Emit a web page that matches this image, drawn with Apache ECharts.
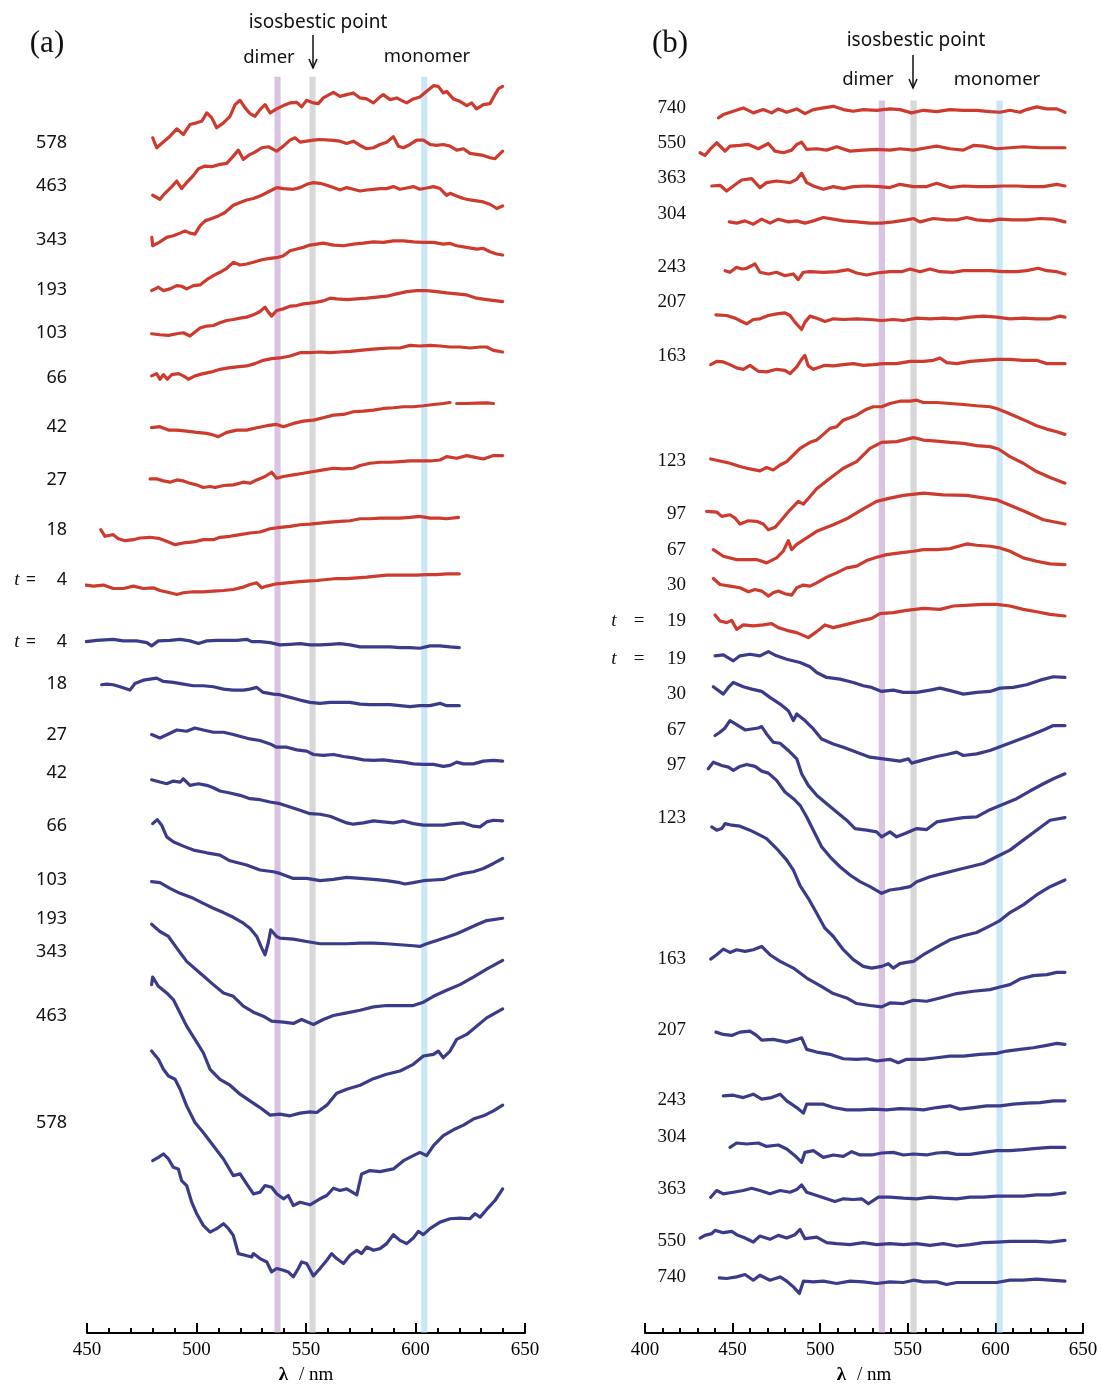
<!DOCTYPE html>
<html>
<head>
<meta charset="utf-8">
<script src="https://cdn.jsdelivr.net/npm/echarts@6/dist/echarts.min.js"></script>
<style>
html, body { margin: 0; padding: 0; background: #fff; }
#chart { width: 1102px; height: 1390px; }
</style>
</head>
<body>
<div id="chart"></div>
<script>
// y values are stacked offsets (arbitrary units, top = 0), x is wavelength in nm

// ---- (a) red traces ----
const aRed578 = [[480,138.3],[481.8,148.3],[487.9,136.7],[491,129.3],[494,135],[497,125],[500,123.3],[502.4,121.7],[504.7,113.3],[507,118.3],[509.2,128.3],[512.3,123.3],[515.3,116.7],[517.6,105],[519.9,100.7],[522.2,108.3],[524.4,114],[526.7,116.7],[529,110],[531.3,105],[533.6,113.3],[536.6,109.3],[539.7,106],[542.7,103.3],[545.8,102.7],[548,107.3],[550.3,100.7],[553.4,103.3],[555.6,104],[557.9,98.3],[562.5,92.7],[565.5,96.7],[568.6,95],[571.6,93.3],[574.7,98.3],[577.7,99.3],[580.8,103.3],[583.8,97.3],[585.3,95],[588.4,100],[591.4,98.3],[594.5,101.7],[596,103.3],[599,99.3],[602,97.3],[605.1,91.7],[608.2,86],[610.4,86.7],[612.7,93.3],[614.2,91.7],[617.3,99.3],[620.3,101.7],[623.4,106],[625.7,103.3],[627.9,109.3],[631,105],[634,104],[636.3,95],[637.8,89.3],[639.8,86.7]];
const aRed463 = [[480,196],[483.3,200],[485.6,194],[488.7,187.3],[491,181.7],[493.2,189.3],[495.5,183.3],[498.6,176],[500.9,169.3],[503.9,166.7],[506.9,167.3],[510.7,165],[513.8,164],[516.8,156.7],[519.1,150.7],[521.4,160],[523.7,156],[526.7,152.7],[529.8,148.3],[532.8,147.3],[536.6,151.7],[539.7,146.7],[542.7,140.7],[545,138.3],[547.3,142.7],[550.3,141.7],[553.4,140.7],[556.4,140],[561,140.7],[565.5,141.7],[568.6,144],[571.6,141.7],[574.7,146],[577.7,149.3],[580.8,148.3],[583.8,145],[586.8,142.7],[589.9,137.3],[592.2,146.7],[594.5,148.3],[597.5,145],[600.5,140.7],[603.6,140.7],[606.6,145],[609.7,146],[612.7,145],[615.8,146.7],[618.8,150.7],[621.9,149.3],[624.9,154],[627.9,155],[631,156],[634,158.3],[636.3,159.3],[637.8,156],[639.8,151.7]];
const aRed343 = [[479.6,238.3],[480,246.7],[483.3,242.7],[486.4,238.3],[489.4,236.7],[492.5,234],[494.8,231.7],[497,234],[499.3,235],[501.6,226.7],[503.9,221.7],[506.9,219.3],[510,216.7],[513,213.3],[516.8,206],[519.9,203.3],[522.9,200.7],[526,199.3],[529.8,196],[533.6,191.7],[536.6,188.3],[539.7,189.3],[544.2,190],[547.3,188.3],[550.3,185],[553.4,183.3],[556.4,184],[559.5,186],[562.5,188.3],[565.5,190.7],[568.6,188.3],[571.6,190],[574.7,191.7],[577.7,190.7],[580.8,190],[583.8,189.3],[586.8,189.3],[589.9,187.3],[592.9,190],[596,188.7],[599,187.3],[602,190],[605.1,188.7],[608.2,187.3],[611.2,189.3],[614.2,196],[615.8,194],[618.8,196.7],[621.9,199.3],[624.9,200.7],[627.9,201.7],[631,202.7],[634,205],[637.1,209.3],[639.8,206.7]];
const aRed193 = [[479.5,291.7],[482.6,288.3],[484.9,291.7],[487.9,290],[491,286.7],[493.2,287.3],[495.5,290],[498.6,286.7],[501.6,286],[504.7,280.7],[507.7,276.7],[510.7,273.3],[513.8,269.3],[516.8,263.3],[519.9,266],[522.9,265],[526,263.3],[529.8,260.7],[533.6,259.3],[537.4,258.3],[539.7,256.7],[542.7,251.7],[545.8,250],[548.8,248.3],[551.8,246],[554.9,245],[557.9,244],[562.5,246],[567.1,246.7],[571.6,245],[576.2,244],[580.8,242.7],[585.3,243.3],[589.9,241.7],[594.5,241.7],[599,242.7],[603.6,243.3],[608.2,243.3],[612.7,245],[615.8,244.3],[618.8,246.7],[623.4,248.3],[627.9,250],[631,249.3],[634,252.7],[637.1,255],[639.8,256]];
const aRed103 = [[479.5,335],[483.3,336],[487.2,336.7],[491,335],[494,334],[497,337.3],[499.3,333.3],[501.6,329.3],[504.7,327.3],[507.7,326.7],[510.7,324],[513.8,321.7],[516.8,320.7],[519.9,319.3],[522.9,318.3],[526,316],[529,312.7],[531.3,308.3],[532.8,313.3],[534.3,317.3],[536.6,311.7],[539.7,310],[542.7,307.3],[545.8,306.7],[548.8,305],[551.8,304.3],[554.9,303.3],[557.9,302],[561,299.3],[564,300],[568.6,300.7],[573.2,300],[577.7,299.3],[582.3,298.3],[586.8,297.3],[591.4,295],[596,292.7],[600.5,291.7],[605.1,291.7],[609.7,292.7],[614.2,294],[618.8,295],[623.4,296],[627.9,299.3],[632.5,300.7],[636.3,301.7],[639.8,302.7]];
const aRed66 = [[479.5,377.3],[481.8,375],[483.3,380.7],[484.9,376],[486.7,380.7],[488.7,376],[491.7,375],[494,377.3],[496.3,380.7],[499.3,377.3],[503.1,375],[506.9,373.3],[510.7,370.7],[514.6,369.3],[518.4,368.3],[522.9,367.3],[526.7,365],[530.5,361.7],[534.3,360],[538.1,359.3],[542.7,357.3],[547.3,354],[551.8,354],[556.4,353.3],[561,354],[565.5,353.3],[570.1,352.7],[574.7,351.7],[579.2,350.7],[583.8,350],[588.4,349.3],[592.9,349.3],[597.5,346.7],[602,347.3],[606.6,346.7],[611.2,347.3],[615.8,348.3],[620.3,348.3],[624.9,349.3],[629.5,348.3],[632.5,348.3],[635.6,351.7],[639.8,353.3]];
const aRed42 = [[479.5,429.3],[483.3,428.3],[487.2,431.7],[491,431.7],[495.5,432.7],[500.1,434],[504.7,435],[507.7,436.7],[510,438.3],[513.8,434],[518.4,431.7],[522.9,431.7],[527.5,429.3],[532.1,427.3],[536.6,426],[539.7,428.3],[544.2,425],[548.8,422.7],[553.4,421.7],[557.9,419.3],[562.5,416.7],[567.1,416],[571.6,413.3],[576.2,412.7],[580.8,411.7],[585.3,410],[589.9,409.3],[594.5,408.3],[599,408.3],[603.6,407.3],[608.2,406],[612.7,405],[615.8,404],[617.2,'-'],[618.8,405],[623.4,405],[627.9,404.7],[632.5,404.3],[635.6,405]];
const aRed27 = [[478.8,480.7],[481.8,480.7],[484.9,482.7],[487.9,484],[491,481.7],[494,482.7],[497,485],[500.1,486.7],[503.1,489.3],[506.2,488.3],[508.5,489.3],[512.3,487.3],[516.8,486.7],[521.4,484],[524.4,485],[527.5,481.7],[531.3,478.3],[534.3,474],[536.6,480],[539.7,478.3],[544.2,476.7],[548.8,475],[553.4,473.3],[557.9,471.7],[562.5,470],[567.1,470.7],[571.6,470],[574.7,467.3],[579.2,465],[583.8,464],[588.4,464],[592.9,463.3],[597.5,462.7],[602,462.7],[606.6,462.7],[611.2,461.7],[614.2,458.3],[618.8,460],[623.4,457.3],[627.9,459.3],[631,460.7],[635.6,457.3],[639.8,457.3]];
const aRed18 = [[456.3,531.7],[458.2,538.3],[460.5,537.3],[462,536.7],[464.3,540.7],[467.4,542.7],[471.2,541.7],[474.2,540],[478.8,539.3],[483.3,540.7],[487.2,544],[490.2,546.7],[494,545],[498.6,544],[503.1,541.7],[507.7,541.7],[510.7,539.3],[515.3,538.3],[519.9,536.7],[524.4,535],[529,534],[533.6,530.7],[538.1,529.3],[542.7,528.3],[547.3,526.7],[551.8,526],[556.4,525],[561,524],[565.5,523.3],[570.1,522.7],[574.7,520.7],[579.2,520.7],[583.8,520],[588.4,520],[592.9,520],[597.5,519.3],[602,518.3],[606.6,520],[611.2,520],[614.2,520.7],[619.6,519.3]];
const aRed4 = [[449.6,587.3],[452.9,588.3],[457.5,587.3],[462,590.7],[466.6,590.7],[471.2,588.3],[475.7,590.7],[480.3,590],[483.3,592.7],[487.9,595],[491,596.7],[494,595],[498.6,594],[503.1,594],[507.7,593.3],[512.3,592.7],[516.8,591.7],[521.4,589.3],[524.4,586.7],[527.5,585],[529.8,590],[532.1,588.3],[536.6,586],[541.2,585],[545.8,584],[550.3,583.3],[554.9,582.7],[559.5,581.7],[564,580.7],[568.6,580.7],[573.2,580],[577.7,579.3],[582.3,578.3],[586.8,577.3],[591.4,577.3],[596,577.3],[600.5,577.3],[605.1,576.7],[609.7,576.7],[614.2,576],[620,576]];

// ---- (a) blue traces ----
const aBlue4 = [[449.6,644],[454.4,642.7],[462,641.7],[466.6,643.3],[472.7,643.3],[477.3,645],[479.5,648.3],[482.6,643.3],[487.9,642.7],[492.5,641.7],[497,643.3],[500.9,646],[504.7,643.3],[509.2,642.7],[513.8,642.7],[518.4,642.7],[522.9,641.7],[525.2,644],[529,644],[533.6,645],[538.1,647.3],[542.7,646.7],[547.3,646],[551.8,647.3],[556.4,647.3],[561,646.7],[565.5,646],[570.1,647.3],[574.7,649.3],[579.2,649.3],[583.8,649.3],[588.4,649.3],[592.9,650],[597.5,650],[602,650.7],[606.6,648.3],[611.2,648.3],[615.8,649.3],[620,650]];
const aBlue18 = [[456.7,687.3],[459,686.7],[462,687.3],[465.1,689.3],[469.6,692.7],[471.9,686],[475.7,682.7],[481.8,680.7],[484.9,684],[489.4,685],[494,686.7],[498.6,688.3],[503.1,688.3],[507.7,689.3],[512.3,691.7],[516.8,692.7],[521.4,692.7],[524.4,691.7],[527.5,690],[530.5,695],[535.1,696.7],[538.1,697.3],[542.7,700],[547.3,702.7],[551.8,705],[556.4,706],[561,705],[565.5,705],[570.1,705],[574.7,706.7],[579.2,707.3],[583.8,707.3],[588.4,707.3],[592.9,708.3],[597.5,709.3],[602,708.3],[606.6,708.3],[611.2,706],[614.2,708.3],[620,708.3]];
const aBlue27 = [[479.5,737.3],[483.3,740.7],[487.9,736],[491,732.7],[495.5,734],[499.3,730.7],[503.1,732.7],[507.7,735],[512.3,735],[516.8,737.3],[521.4,740],[524.4,741.7],[529,743.3],[533.6,746.7],[536.6,750],[541.2,750],[545.8,752.7],[550.3,754],[553.4,757.3],[557.9,758.3],[562.5,757.3],[567.1,759.3],[571.6,760.7],[576.2,762.7],[580.8,763.3],[585.3,762.7],[589.9,764],[594.5,765],[599,766.7],[603.6,767.3],[608.2,767.3],[612.7,769.3],[615.8,768.3],[618.8,765],[621.9,766.7],[626.4,766.7],[631,764],[635.6,763.3],[639.8,764]];
const aBlue42 = [[479.5,782.7],[483.3,785],[486.4,786.7],[489.4,784],[492.5,785],[494,781.7],[497,788.3],[500.9,786.7],[504.7,788.3],[507.7,790.7],[510.7,794],[515.3,796],[519.9,798.3],[524.4,801.7],[529,802.7],[533.6,805],[538.1,806.7],[542.7,810],[547.3,813.3],[551.8,816.7],[556.4,817.3],[561,819.3],[565.5,823.3],[568.6,826],[571.6,827.3],[576.2,826],[580.8,824],[585.3,825],[589.9,826],[594.5,824],[599,826.7],[603.6,828.3],[608.2,828.3],[612.7,828.3],[617.3,826.7],[621.9,826],[626.4,829.3],[629.5,830],[632.5,825],[635.6,823.3],[639.8,824]];
const aBlue66 = [[480,826.7],[482.1,822.7],[484.1,828.3],[486.4,840],[489.4,845],[494,849.3],[498.6,853.3],[504.7,856],[510.7,858.3],[515.3,864],[522.9,868.3],[529,873.3],[535.1,875],[538.1,876.7],[544.2,881.7],[550.3,881.7],[556.4,884],[562.5,882.7],[568.6,880.7],[574.7,881.7],[580.8,882.7],[586.8,884],[592.9,886],[595.2,887.3],[599,886],[603.6,884],[608.2,883.3],[612.7,882.7],[617.3,879.3],[621.9,876.7],[626.4,875],[631,871.7],[635.6,866.7],[639.8,861.7]];
const aBlue103 = [[479.5,885],[483.3,886],[487.9,891.7],[492.5,896.7],[498.6,901.7],[503.1,906.7],[507.7,911.7],[512.3,916],[516.8,920.7],[521.4,926.7],[524.4,931.7],[527.5,940],[529.8,951.7],[531.3,958.3],[532.8,946],[533.9,933.3],[536.6,940],[538.1,941.7],[544.2,942.7],[550.3,945],[556.4,947.3],[562.5,947.3],[568.6,947.3],[574.7,946.7],[580.8,946.7],[586.8,947.3],[592.9,948.3],[599,949.3],[602,950],[605.1,947.3],[609.7,944],[614.2,940.7],[618.8,937.3],[623.4,932.7],[627.9,928.3],[632.5,924],[639.8,921.7]];
const aBlue193 = [[479.5,927.7],[483.3,935],[487.2,940],[491,951.7],[495.5,965],[501.6,976.7],[507.7,988.3],[512.3,996.7],[516.8,1000],[521.4,1010],[526,1016],[530.5,1020],[534.3,1025],[539.7,1026],[544.2,1027.3],[548,1023.3],[553.4,1028.3],[557.9,1023.3],[562.5,1019.3],[568.6,1016.7],[574.7,1014],[580.8,1010.7],[586.8,1009.3],[592.9,1009.3],[599,1009.3],[603.6,1006],[608.2,1000],[614.2,994],[620.3,988.3],[626.4,980.7],[632.5,972.7],[639.8,964]];
const aBlue343 = [[479.5,988.3],[480,980.7],[482.6,990],[486.4,996.7],[489.4,1003.3],[492.5,1016.7],[495.5,1030],[499.3,1043.3],[503.1,1056.7],[506.2,1073.3],[510.7,1083.3],[515.3,1089.3],[519.9,1098.3],[524.4,1105],[529,1111.7],[533.6,1119.3],[538.1,1118.3],[542.7,1120],[547.3,1117.3],[551.8,1116],[554.9,1116.7],[559.5,1109.3],[564,1097.3],[568.6,1093.3],[574.7,1089.3],[580.8,1082.7],[586.8,1078.3],[592.9,1075],[599,1068.3],[603.6,1060],[608.2,1058.3],[610.4,1055],[612.7,1061.7],[615.8,1055],[618.8,1043.3],[623.4,1038.3],[627.9,1030],[632.5,1021.7],[639.8,1012.7]];
const aBlue463 = [[479.5,1055],[482.6,1063.3],[484.9,1073.3],[487.2,1080],[490.2,1083.3],[492.5,1093.3],[495.5,1110],[499.3,1126.7],[503.1,1136.7],[507.7,1150],[512.3,1163.3],[516.8,1180],[519.9,1178.3],[522.9,1188.3],[526,1198.3],[529,1196.7],[531.3,1190],[534.3,1191.7],[536.6,1198.3],[539.7,1203.3],[541.9,1200],[544.2,1210],[547.3,1206.7],[551.8,1209.3],[556.4,1203.3],[559.5,1200],[562.5,1192.7],[565.5,1195],[568.6,1193.3],[573.2,1199.3],[575.4,1178.3],[579.2,1175],[583.8,1176],[589.9,1173.3],[594.5,1165],[599,1160],[602,1156.7],[605.1,1160],[608.2,1150],[612.7,1140],[617.3,1134],[621.9,1129.3],[626.4,1123.3],[631,1120],[635.6,1115],[639.8,1109.3]];
const aBlue578 = [[480,1165],[482.6,1161.7],[484.9,1158.3],[487.2,1163.3],[489.4,1171.7],[491.7,1173.3],[493.2,1185],[495.5,1190],[497.8,1206.7],[500.1,1218.3],[503.1,1230],[506.2,1236.7],[509.2,1233.3],[512.3,1228.3],[514.6,1233.3],[516.8,1240],[519.1,1258.3],[522.2,1260],[525.2,1261.7],[526,1258.3],[529,1263.3],[532.1,1266.7],[534.3,1276.7],[536.6,1273.3],[539.7,1275],[541.9,1276.7],[544.2,1281.7],[546.5,1273.3],[548,1266.7],[550.3,1268.3],[553.4,1280.7],[556.4,1273.3],[559.5,1265],[561.7,1258.3],[564,1263.3],[567.1,1268.3],[570.1,1260],[573.2,1255],[575.4,1258.3],[577.7,1251.7],[580.8,1255],[583.8,1253.3],[586.8,1248.3],[589.9,1239.3],[592.9,1245],[596,1248.3],[599,1242.7],[601.3,1236],[603.6,1239.3],[606.6,1233.3],[611.2,1226.7],[615.8,1223.3],[620.3,1222.7],[624.9,1223.3],[627.2,1218.3],[629.5,1221.7],[632.5,1214],[636.3,1205],[639.8,1193.3]];

// ---- (b) red traces ----
const bRed740 = [[441.9,118.3],[444.7,115],[450.4,111.7],[456.1,108.3],[461.8,113.3],[467.5,110],[472.3,113.3],[476.1,109.3],[480.9,112.7],[486.6,109.3],[491.3,114],[496.1,110],[501.8,108.3],[507.5,106.7],[513.2,110],[518.9,111.7],[524.6,110],[532.2,110.7],[539.8,109.3],[545.5,110],[552.2,113.3],[558.9,110.7],[566.5,112],[574.1,110],[581.7,110.7],[589.3,110.7],[596.9,112],[602.6,112.7],[608.3,110.7],[614,112.7],[617.8,110],[623.5,107.3],[629.3,109.3],[635,109.3],[639.7,112.7]];
const bRed550 = [[431.4,153.3],[434.2,156],[437.1,150],[440.9,143.3],[443.8,148.3],[445.7,151.7],[448.5,146.7],[454.2,146],[459,145],[464.7,149.3],[470.4,144],[474.2,151.7],[479,153.3],[483.7,150.7],[486.6,145],[489.4,142.7],[492.3,150],[498,149.3],[503.7,150.7],[509.4,147.3],[517,151.7],[524.6,150.7],[532.2,150],[539.8,150.7],[545.5,149.3],[553.2,150.7],[560.8,148.3],[566.5,146.7],[574.1,149.3],[581.7,150.7],[587.4,146],[593.1,146.7],[600.7,149.3],[608.3,148.3],[615.9,147.3],[625.5,148.3],[635,148.3],[639.7,148.3]];
const bRed363 = [[438.1,186.7],[442.8,186],[446.6,191.7],[450.4,186.7],[455.2,180.7],[460.9,179.3],[465.6,188.3],[469.4,183.3],[475.1,181.7],[479.9,182.7],[482.8,183.3],[486.6,180],[489.4,174],[492.3,183.3],[496.1,186.7],[501.8,190],[507.5,187.3],[513.2,189.3],[518.9,187.3],[526.5,186.7],[534.1,187.3],[539.8,188.3],[545.5,185],[553.2,187.3],[560.8,187.3],[566.5,184],[574.1,188.3],[581.7,186.7],[589.3,187.3],[596.9,187.3],[604.5,186.7],[612.1,186.7],[619.7,187.3],[627.4,187.3],[635,185],[639.7,186.7]];
const bRed304 = [[448.1,222.7],[452.3,224],[457.1,221.7],[461.8,225],[466.6,220],[471.3,224],[476.1,220],[481.8,222.7],[486.6,221.7],[491.3,224],[496.1,221.7],[501.8,218.3],[507.5,220],[513.2,221.7],[520.8,222.7],[528.4,224],[535.1,224],[541.7,222.7],[549.3,220.7],[553.2,219.3],[557,222.7],[564.6,219.3],[572.2,220.7],[577.9,220.7],[583.6,218.3],[589.3,220.7],[596.9,221.7],[602.6,220],[610.2,220.7],[617.8,220.7],[625.5,219.3],[633.1,220],[639.7,222.7]];
const bRed243 = [[445.7,271.7],[448.5,273.3],[452.3,268.3],[455.2,270],[458,269.3],[462.8,265],[465.6,273.3],[470.4,275],[475.1,273.3],[479.9,276.7],[484.7,275],[487.5,280.7],[490.4,273.3],[494.2,272.7],[501.8,273.3],[509.4,272.7],[516,270.7],[520.8,274],[526.5,276],[532.2,274],[539.8,272.7],[546.5,272.7],[551.3,270],[557,272.7],[562.7,270],[568.4,272.7],[576,273.3],[581.7,271.7],[589.3,271.7],[596.9,271.7],[604.5,272.7],[612.1,272.7],[617.8,271.7],[624.5,269.3],[629.3,271.7],[635,272.7],[639.7,275]];
const bRed207 = [[440.5,316],[446.6,316.7],[451.4,319.3],[455.2,322.7],[458,325],[461.8,320.7],[465.6,320],[470.4,316.7],[475.1,315],[479.9,314],[482.8,316.7],[485.6,323.3],[489.4,330.7],[491.3,323.3],[494.2,317.3],[498.9,320],[502.7,322.7],[507.5,320],[513.2,320.7],[520.8,320],[528.4,320.7],[535.1,321.7],[541.7,320.7],[547.5,321.7],[555.1,319.3],[562.7,320],[570.3,319.3],[577.9,320],[585.5,318.3],[593.1,317.3],[600.7,318.3],[608.3,320],[615.9,319.3],[623.5,320],[631.2,320],[636.9,317.3],[639.7,318.3]];
const bRed163 = [[437.5,366],[440.9,362.7],[444.7,363.3],[448.5,366],[452.3,369.3],[456.1,370.7],[459.9,366.7],[464.7,372.7],[469.4,373.3],[475.1,370.7],[479.9,371.7],[482.8,375],[486.6,368.3],[489.4,360.7],[491.3,356.7],[493.2,367.3],[496.1,370.7],[499.9,368.3],[502.7,366.7],[507.5,367.3],[513.2,366],[518.9,365],[524.6,366.7],[530.3,366],[536,365],[543.6,365],[551.3,362.7],[558.9,362.7],[564.6,361.7],[568.4,359.3],[572.2,364],[577.9,365],[585.5,362.7],[593.1,361.7],[600.7,360.7],[608.3,360.7],[615.9,361.7],[623.5,361.7],[629.3,365],[635,365],[639.7,365]];
const bRed123 = [[437.5,460.7],[442.8,462.7],[448.5,465],[454.2,468.3],[459.9,470.7],[465.6,472.7],[469.4,469.3],[473.2,471.7],[477.1,466.7],[480.9,463.3],[484.7,456.7],[488.5,450],[494.2,444],[498,441.7],[501.8,436],[505.6,430],[509.4,428.3],[513.2,421.7],[517,419.3],[520.8,416.7],[526.5,410.7],[530.3,408.3],[535.1,408.3],[539.8,405],[545.5,402.7],[551.3,402.7],[555.1,401.7],[558.9,404],[566.5,404],[574.1,405],[581.7,406],[589.3,407.3],[596.9,408.3],[600.7,410],[606.4,414],[612.1,418.3],[617.8,422.7],[623.5,427.3],[629.3,430.7],[635,433.3],[639.7,436]];
const bRed97 = [[435.2,513.3],[440.9,514],[443.8,518.3],[448.5,516.7],[451.4,520],[454.2,526],[459,522.7],[463.7,523.3],[467.5,526],[470.4,531.7],[474.2,529.3],[478,521.7],[482.8,511.7],[487.5,503.3],[490.4,506],[494.2,498.3],[498,490.5],[505.6,480],[513.2,470],[520.8,463.3],[528.4,450],[535.1,444],[543.6,443.3],[553.2,439.3],[558.9,441.7],[566.5,442.7],[574.1,444],[581.7,445],[589.3,447.3],[596.9,448.3],[601.7,450.7],[608.3,458.3],[615.9,465],[623.5,473.3],[631.2,479.3],[639.7,485]];
const bRed67 = [[439,551.7],[444.7,558.3],[452.3,561.7],[463.7,561.7],[469.4,565],[475.1,560],[478.9,553.3],[481.8,542.7],[483.7,551.7],[486.4,546.7],[498,533.3],[507.5,526.7],[515.1,520.7],[524.6,510.7],[532.2,503.3],[539.8,500],[547.5,497.3],[558.9,495],[570.3,496.7],[583.6,497.3],[600.7,501.7],[615.9,512.7],[627.4,521.7],[639.7,526]];
const bRed30 = [[439,580.7],[442.8,586.7],[448.5,588.3],[454.2,590],[459,594],[462.8,591.7],[466.6,593.3],[470.4,598.3],[473.2,595],[476.1,593.3],[479.9,596],[483.7,597.3],[486.6,590],[490.4,587.3],[494.2,588.3],[498,585],[503.7,579.3],[509.4,575],[515.1,570],[520.8,568.3],[526.5,562.7],[532.2,559.3],[537.9,556.7],[545.5,555],[553.2,553.3],[558.9,551.7],[566.5,551.7],[574.1,550.7],[583.6,546],[589.3,547.3],[596.9,548.3],[602.6,550],[608.3,553.3],[615.9,560],[623.5,563.3],[631.2,566],[639.7,566.7]];
const bRed19 = [[440,617.3],[442.8,623.3],[446.6,625],[449.5,622.7],[452.3,631.7],[456.1,627.3],[461.8,628.3],[467.5,627.3],[472.3,626],[476.1,630],[480.9,632.7],[486.6,635],[493.2,640],[498,634],[502.7,627.3],[507.5,630],[515.1,626.7],[522.7,623.3],[529.4,620.7],[534.1,616],[541.7,615],[549.3,612.7],[558.9,610.7],[568.4,611.7],[576,608.3],[585.5,607.3],[593.1,606.7],[600.7,606.7],[608.3,608.3],[615.9,611.7],[623.5,614],[631.2,616.7],[639.7,618.3]];

// ---- (b) blue traces ----
const bBlue19 = [[440,658.3],[444.7,657.3],[450.4,663.3],[454.2,658.3],[459.9,656.7],[465.6,658.3],[470.4,654],[475.1,658.3],[480.9,661.7],[488.5,665],[494.2,669.3],[498,675],[503.7,680],[511.3,681.7],[518.9,685],[524.6,688.3],[529.4,690],[535.1,694],[541.7,692.7],[547.5,695],[555.1,695],[562.7,692.7],[568.4,690.7],[576,694],[581.7,696.7],[589.3,695],[596.9,694],[602.6,690.7],[610.2,690],[617.8,687.3],[625.5,682.7],[633.1,679.3],[639.7,680]];
const bBlue30 = [[439,689.3],[444.7,696.7],[447.6,690],[450.4,685],[456.1,689.3],[460.9,691.7],[466.6,694],[471.3,700],[477.1,706.7],[481.8,713.3],[484.7,723.3],[486.6,716.7],[491.3,723.3],[496.1,731.7],[500.8,741.7],[507.5,746.7],[513.2,750],[520.8,755],[528.4,760],[536,761.7],[545.5,764],[550.3,761.7],[552.2,766],[558.9,762.7],[566.5,759.3],[572.2,757.3],[577.9,755],[581.7,758.3],[589.3,756.7],[596.9,753.3],[604.5,748.3],[612.1,743.3],[619.7,738.3],[627.4,732.7],[633.1,728.3],[639.7,728.3]];
const bBlue67 = [[440,738.3],[442.8,735],[445.7,730.7],[448.5,723.3],[452.3,727.3],[457.1,732.7],[460.9,731.7],[464.7,730.7],[466.6,729.3],[469.4,736.7],[473.2,745],[477.1,746],[481.8,753.3],[486.6,761.7],[489.4,776.7],[493.2,788.3],[498,798.3],[503.7,806.7],[509.4,815],[515.1,823.3],[519.9,831.7],[526.5,833.3],[532.2,835],[535.1,840],[539.8,835],[543.6,840],[548.4,836.7],[555.1,831.7],[560.8,832.7],[566.5,825],[574.1,822.7],[581.7,820.7],[589.3,820],[596.9,812.7],[604.5,807.3],[612.1,801.7],[619.7,794],[627.4,786.7],[633.1,781.7],[639.7,776.7]];
const bBlue97 = [[436.1,771.7],[439,765],[443.8,768.3],[447.6,770],[450.4,773.3],[454.2,769.3],[458,767.3],[462.8,769.3],[466.6,774],[470.4,776],[475.1,783.3],[479.9,795],[484.7,801.7],[488.5,808.3],[492.3,820],[497,836.7],[500.8,850],[505.6,860],[511.3,870],[517,878.3],[522.7,885],[528.4,890],[535.1,896.7],[539.8,893.3],[545.5,892],[551.3,890],[555.1,885],[562.7,880],[570.3,876.7],[577.9,873.3],[585.5,870],[593.1,866.7],[600.7,860],[608.3,853.3],[615.9,843.3],[623.5,833.3],[631.2,823.3],[639.7,820.7]];
const bBlue123 = [[438.1,830],[440.9,833.3],[443.8,831.7],[445.7,826.7],[449.5,828.3],[454.2,829.3],[459.9,833.3],[465.6,838.3],[469.4,841.7],[475.1,851.7],[480.9,863.3],[484.7,873.3],[488.5,889],[493.2,901.7],[498,916.7],[502.7,931.7],[507.5,940],[513.2,953.3],[518.9,963.3],[524.6,970],[529.4,971.7],[535.1,970],[538.9,967.3],[541.7,971.7],[545.5,967.3],[549.3,966],[553.2,965],[558.9,958.3],[566.5,950.7],[574.1,943.3],[581.7,939.3],[589.3,936],[596.9,929.3],[602.6,924],[608.3,916],[615.9,908.3],[623.5,898.3],[631.2,890],[639.7,883.3]];
const bBlue163 = [[437.5,962.7],[440.9,958.3],[444.7,952.7],[448.5,956],[452.3,953.3],[457.1,955],[461.8,953.3],[466.6,950],[471.3,958.3],[477.1,965],[484.7,971.7],[492.3,981.7],[499.9,989.3],[507.5,997.3],[515.1,1001.7],[520.8,1007.3],[528.4,1009.3],[535.1,1010.7],[539.8,1006.7],[547.5,1007.3],[553.2,1004],[560.8,1005],[568.4,1001.7],[577.9,997.3],[587.4,995],[596.9,993.3],[602.6,990.7],[608.3,988.3],[614,982.7],[621.6,979.3],[629.3,978.3],[635,976],[639.7,976]];
const bBlue207 = [[440.5,1036],[444.7,1038.3],[449.5,1039.3],[454.2,1036],[459.9,1035],[463.7,1039.3],[466.6,1044],[473.2,1043.3],[480.9,1046],[486.6,1043.3],[489.4,1041.7],[492.3,1053.3],[498,1056],[505.6,1058.3],[513.2,1062.7],[520.8,1063.3],[526.5,1062.7],[532.2,1065],[539.8,1063.3],[544.6,1066.7],[549.3,1063.3],[558.9,1063.3],[566.5,1061.7],[574.1,1060],[581.7,1060],[591.2,1058.3],[600.7,1057.3],[606.4,1055],[614,1053.3],[621.6,1051.7],[629.3,1049.3],[635,1047.3],[639.7,1048.3]];
const bBlue243 = [[444.7,1100],[450.4,1099.3],[456.1,1101.7],[461.8,1098.3],[466.6,1103.3],[472.3,1101.7],[477.1,1098.3],[480.9,1105],[486.6,1111.7],[490.4,1117.3],[492.3,1108.3],[497,1108.3],[501.8,1108.3],[507.5,1111.7],[515.1,1114],[522.7,1114],[530.3,1113.3],[537.9,1114],[545.5,1112.7],[553.2,1113.3],[558.9,1114],[566.5,1111.7],[574.1,1110],[579.8,1113.3],[587.4,1111.7],[595,1110],[602.6,1110],[610.2,1108.3],[617.8,1107.3],[625.5,1106.7],[633.1,1105],[639.7,1105]];
const bBlue304 = [[448.5,1151.7],[452.3,1147.3],[458,1148.3],[464.7,1147.3],[469.4,1150.7],[476.1,1149.3],[480.9,1153.3],[485.6,1160],[489.4,1166.7],[491.3,1156.7],[496.1,1155],[501.8,1161.7],[507.5,1159.3],[513.2,1160.7],[518,1156],[522.7,1159.3],[529.4,1159.3],[535.1,1157.3],[541.7,1156.7],[547.5,1159.3],[553.2,1158.3],[560.8,1159.3],[566.5,1157.3],[572.2,1156.7],[577.9,1158.7],[585.5,1158.7],[593.1,1156.7],[600.7,1155],[608.3,1155],[615.9,1154],[623.5,1152.7],[631.2,1151.7],[639.7,1151.7]];
const bBlue363 = [[437.5,1201.7],[440.9,1195],[444.7,1198.3],[450.4,1196.7],[456.1,1195],[460.9,1192.7],[465.6,1195],[471.3,1198.3],[477.1,1195],[482.8,1196.7],[486.6,1194],[489.4,1189.3],[492.3,1196.7],[498,1200],[503.7,1203.3],[508.4,1206],[513.2,1203.3],[518.9,1204],[523.7,1203.3],[527.5,1208.3],[533.2,1201.7],[539.8,1201.7],[547.5,1202.7],[555.1,1203.3],[562.7,1201.7],[570.3,1202.7],[577.9,1203.3],[585.5,1201.7],[593.1,1201.7],[600.7,1200.7],[608.3,1200.7],[615.9,1200.7],[623.5,1199.3],[631.2,1199.3],[639.7,1197.3]];
const bBlue550 = [[431.4,1242.7],[434.2,1240],[438.1,1238.3],[440,1235],[444.7,1237.3],[449.5,1236],[452.3,1239.3],[457.1,1242.7],[461.8,1246.7],[465.6,1240.7],[471.3,1244],[476.1,1240],[480.9,1242.7],[485.6,1239.3],[488.5,1234],[491.3,1243.3],[498,1241.7],[503.7,1247.3],[509.4,1248.3],[517,1249.3],[524.6,1247.3],[532.2,1249.3],[539.8,1248.3],[547.5,1249.3],[555.1,1248.3],[562.7,1250],[570.3,1248.3],[577.9,1250.7],[585.5,1249.3],[593.1,1247.3],[600.7,1246.7],[608.3,1246],[615.9,1246],[623.5,1246],[631.2,1246.7],[639.7,1245]];
const bBlue740 = [[442.4,1282.7],[446.6,1283.3],[452.3,1281.7],[457.1,1279.3],[461.8,1285],[465.6,1280],[471.3,1285],[477.1,1281.7],[480.9,1286],[484.7,1291.7],[488.1,1298.3],[490.4,1286],[496.1,1286.7],[501.8,1286],[509.4,1288.3],[517,1286],[524.6,1286.7],[532.2,1288.3],[539.8,1286.7],[547.5,1287.3],[553.2,1285],[558.9,1286.7],[566.5,1286.7],[572.2,1289.3],[577.9,1287.3],[585.5,1287.3],[593.1,1287.3],[600.7,1287.3],[608.3,1285],[615.9,1285],[623.5,1284],[631.2,1285],[639.7,1286]];

// time labels and the level they sit at
const aRedTimes = ['578','463','343','193','103','66','42','27','18','4'];
const aRedLevels = [143,187,241,291,334,379,428,482,532,582];
const aBlueTimes = ['4','18','27','42','66','103','193','343','463','578'];
const aBlueLevels = [644,686,738,776,829,883,922,955,1020,1127];
const bRedTimes = ['740','550','363','304','243','207','163','123','97','67','30','19'];
const bRedLevels = [108,144,179,215,268,303,357,463,516,552,587,623];
const bBlueTimes = ['19','30','67','97','123','163','207','243','304','363','550','740'];
const bBlueLevels = [661,697,733,768,821,963,1034,1104,1141,1193,1246,1282];

// marker wavelengths: dimer, isosbestic point, monomer
const bandsA = [537, 553, 604];
const bandsB = [535.2, 553.3, 602.4];

const RED = '#cd3a2e';
const BLUE = '#3b3b8a';
const BAND_COLORS = ['rgba(184,146,199,0.55)', 'rgba(184,184,184,0.55)', 'rgba(150,208,240,0.5)'];
const AXIS_BOTTOM = 1338;

const chart = echarts.init(document.getElementById('chart'));

function trace(data, color, gi) {
    return {
        type: 'line', xAxisIndex: gi, yAxisIndex: gi, data: data,
        symbol: 'none', showSymbol: false, silent: true, z: 2,
        lineStyle: { color: color, width: 3.2, join: 'round', cap: 'round' }
    };
}

function bands(centers, half, top, gi) {
    return {
        type: 'line', xAxisIndex: gi, yAxisIndex: gi, data: [], silent: true, z: 5,
        markArea: {
            silent: true,
            label: { show: false },
            data: centers.map((c, i) => [
                { xAxis: c - half, yAxis: top, itemStyle: { color: BAND_COLORS[i] } },
                { xAxis: c + half, yAxis: AXIS_BOTTOM }
            ])
        }
    };
}

function xAxisCfg(gi, min) {
    return {
        gridIndex: gi, type: 'value', min: min, max: 650, interval: 50,
        axisLine: { onZero: false, lineStyle: { color: '#000', width: 2 } },
        axisTick: { inside: true, length: 10, lineStyle: { color: '#000', width: 2 } },
        minorTick: { show: true, splitNumber: 5, length: 5, lineStyle: { color: '#000', width: 2 } },
        splitLine: { show: false },
        axisLabel: { color: '#000', fontFamily: 'Liberation Serif', fontSize: 19, margin: 8 },
        name: '{l|λ} / nm', nameLocation: 'middle', nameGap: 33,
        nameTextStyle: {
            color: '#000', fontFamily: 'Liberation Serif', fontSize: 19,
            rich: { l: { fontWeight: 'bold', fontFamily: 'Liberation Serif', fontSize: 19, color: '#000', padding: [0, 6, 0, 0] } }
        }
    };
}

function yAxisCfg(gi) {
    return { gridIndex: gi, type: 'value', min: 0, max: AXIS_BOTTOM, inverse: true, show: false };
}

const series = [];
[aRed578, aRed463, aRed343, aRed193, aRed103, aRed66, aRed42, aRed27, aRed18, aRed4].forEach(d => series.push(trace(d, RED, 0)));
[aBlue4, aBlue18, aBlue27, aBlue42, aBlue66, aBlue103, aBlue193, aBlue343, aBlue463, aBlue578].forEach(d => series.push(trace(d, BLUE, 0)));
[bRed740, bRed550, bRed363, bRed304, bRed243, bRed207, bRed163, bRed123, bRed97, bRed67, bRed30, bRed19].forEach(d => series.push(trace(d, RED, 1)));
[bBlue19, bBlue30, bBlue67, bBlue97, bBlue123, bBlue163, bBlue207, bBlue243, bBlue304, bBlue363, bBlue550, bBlue740].forEach(d => series.push(trace(d, BLUE, 1)));
series.push(bands(bandsA, 1.4, 77, 0));
series.push(bands(bandsB, 1.8, 101, 1));

chart.setOption({
    animation: false,
    backgroundColor: '#fff',
    grid: [
        { left: 87, width: 438, top: 0, height: AXIS_BOTTOM },
        { left: 645, width: 438, top: 0, height: AXIS_BOTTOM }
    ],
    xAxis: [xAxisCfg(0, 450), xAxisCfg(1, 400)],
    yAxis: [yAxisCfg(0), yAxisCfg(1)],
    series: series
});

// text labels placed with the y scale
const SANS = '"Noto Sans", "Liberation Sans", sans-serif';
const SERIF = '"Liberation Serif", serif';
const g = [];

function txt(x, y, text, font, align) {
    g.push({ type: 'text', x: x, y: y, silent: true, z: 10,
        style: { text: text, font: font, fill: '#111', textAlign: align || 'center', textVerticalAlign: 'middle' } });
}

function timeLabels(times, levels, gi, xRight, font, first, tX, eqX, tFont) {
    times.forEach((t, i) => {
        const y = chart.convertToPixel({ yAxisIndex: gi }, levels[i]);
        txt(xRight, y, t, font, 'right');
        if (t === first) {
            txt(tX, y, 't', tFont, 'center');
            txt(eqX, y, '=', font, 'center');
        }
    });
}

timeLabels(aRedTimes, aRedLevels, 0, 67, '18px ' + SANS, '4', 17, 31, 'italic 19px ' + SERIF);
timeLabels(aBlueTimes, aBlueLevels, 0, 67, '18px ' + SANS, '4', 17, 31, 'italic 19px ' + SERIF);
timeLabels(bRedTimes, bRedLevels, 1, 686, '19px ' + SERIF, '19', 614, 639, 'italic 19px ' + SERIF);
timeLabels(bBlueTimes, bBlueLevels, 1, 686, '19px ' + SERIF, '19', 614, 639, 'italic 19px ' + SERIF);

// panel letters and band annotations
txt(47, 44, '(a)', '31px ' + SERIF);
txt(670, 44, '(b)', '31px ' + SERIF);
txt(318, 23, 'isosbestic point', '19px ' + SANS);
txt(269, 58, 'dimer', '18.5px ' + SANS);
txt(427, 57, 'monomer', '18.5px ' + SANS);
txt(916, 41, 'isosbestic point', '19px ' + SANS);
txt(868, 80, 'dimer', '18.5px ' + SANS);
txt(997, 80, 'monomer', '18.5px ' + SANS);

function arrow(x, y1, y2) {
    g.push({ type: 'line', silent: true, shape: { x1: x, y1: y1, x2: x, y2: y2 }, style: { stroke: '#111', lineWidth: 1.5 } });
    g.push({ type: 'polyline', silent: true, shape: { points: [[x - 4, y2 - 9], [x, y2], [x + 4, y2 - 9]] }, style: { stroke: '#111', lineWidth: 1.5, fill: null } });
}
arrow(313, 35, 68);
arrow(913, 55, 88);

chart.setOption({ graphic: g });
</script>
</body>
</html>
